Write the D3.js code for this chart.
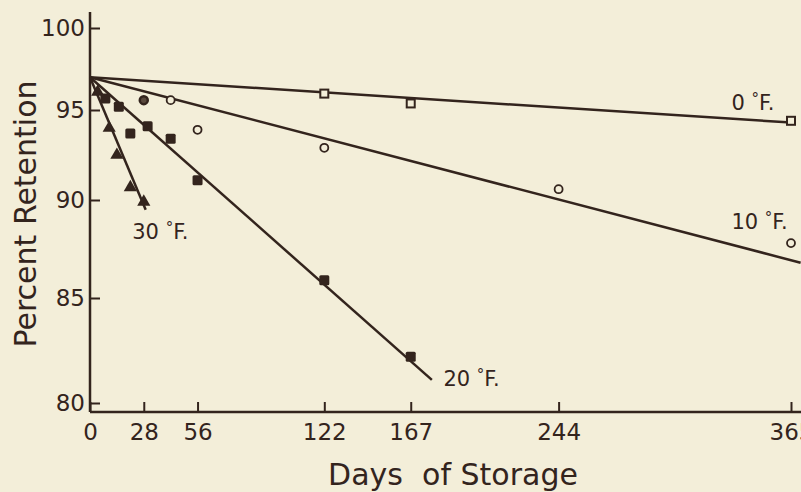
<!DOCTYPE html>
<html>
<head>
<meta charset="utf-8">
<script src="https://cdn.jsdelivr.net/npm/d3@7"></script>
<style>
  body { margin: 0; background: #f3eed9; }
  svg { display: block; }
  text { font-family: "DejaVu Sans", sans-serif; fill: #33241d; }
</style>
</head>
<body>
<svg id="chart" width="801" height="492"></svg>
<script>
// axis ticks
const dayTicks = [0, 28, 56, 122, 167, 244, 365]
const pctTicks = [80, 85, 90, 95, 100]

// 0 F (open squares)
const f0Days = [122, 167, 365]
const f0Vals = [96.0, 95.4, 94.4]
// 10 F (open circles)
const f10Days = [28, 42, 56, 122, 244, 365]
const f10Vals = [95.6, 95.6, 93.9, 92.9, 90.6, 87.8]
// 20 F (filled squares)
const f20Days = [8, 15, 21, 30, 42, 56, 122, 167]
const f20Vals = [95.7, 95.2, 93.7, 94.1, 93.4, 91.1, 85.9, 82.2]
// 30 F (filled triangles)
const f30Days = [4, 10, 14, 21, 28]
const f30Vals = [96.1, 94.0, 92.5, 90.7, 89.9]

// fitted lines: [startDay, startVal, endDay, endVal]
const lineTemps = ["0", "10", "20", "30"]
const lineFits = [
  [0, 97.0, 365, 94.3],
  [0, 97.0, 370, 86.8],
  [0, 97.0, 178, 81.1],
  [0, 97.0, 29, 89.5]
]
// where each label sits, in days / percent
const labelDays = [334, 334, 184, 22]
const labelVals = [95.0, 88.5, 80.8, 88.0]

const ink = "#33241d"
const paper = "#f3eed9"
const svg = d3.select("#chart")

const x = d3.scaleLinear().domain([0, 365]).range([90, 791])
// the printed percent axis is not evenly spaced, so map each tick
const y = d3.scaleLinear().domain([80, 85, 90, 95, 100]).range([403, 298, 200, 110, 28])
const axisY = 412

// axes
const xAxis = svg.append("g").attr("transform", "translate(0," + axisY + ")")
  .call(d3.axisBottom(x).tickValues(dayTicks).tickSize(-10).tickSizeOuter(0).tickPadding(12))
xAxis.select(".domain").remove()
xAxis.selectAll("line").attr("stroke", ink).attr("stroke-width", 2)
xAxis.selectAll("text").attr("font-size", 23).attr("fill", ink).style("font-family", "DejaVu Sans")
svg.append("line").attr("x1", x(0)).attr("x2", 801).attr("y1", axisY).attr("y2", axisY)
  .attr("stroke", ink).attr("stroke-width", 2.5)

const yAxis = svg.append("g").attr("transform", "translate(" + x(0) + ",0)")
  .call(d3.axisLeft(y).tickValues(pctTicks).tickSize(-10).tickSizeOuter(0).tickPadding(5))
yAxis.select(".domain").remove()
yAxis.selectAll("line").attr("stroke", ink).attr("stroke-width", 2)
yAxis.selectAll("text").attr("font-size", 23).attr("fill", ink).style("font-family", "DejaVu Sans")
svg.append("line").attr("x1", x(0)).attr("x2", x(0)).attr("y1", y(100) - 16).attr("y2", axisY)
  .attr("stroke", ink).attr("stroke-width", 2.5)

// axis titles
svg.append("text").attr("transform", "translate(36,214) rotate(-90)")
  .attr("text-anchor", "middle").attr("font-size", 30).text("Percent Retention")
svg.append("text").attr("x", 453).attr("y", 485).attr("text-anchor", "middle")
  .attr("font-size", 30).attr("xml:space", "preserve").text("Days  of Storage")

// fitted lines
svg.append("g").selectAll(".fit").data(lineFits).join("line").attr("class", "fit")
  .attr("x1", d => x(d[0])).attr("y1", d => y(d[1]))
  .attr("x2", d => x(d[2])).attr("y2", d => y(d[3]))
  .attr("stroke", ink).attr("stroke-width", 2.5)

// points
const pts = (days, vals) => days.map((d, i) => ({ day: d, val: vals[i] }))

svg.append("g").selectAll("rect").data(pts(f0Days, f0Vals)).join("rect")
  .attr("x", d => x(d.day) - 4).attr("y", d => y(d.val) - 4)
  .attr("width", 8).attr("height", 8)
  .attr("fill", paper).attr("stroke", ink).attr("stroke-width", 2)

svg.append("g").selectAll("circle").data(pts(f10Days, f10Vals)).join("circle")
  .attr("cx", d => x(d.day)).attr("cy", d => y(d.val)).attr("r", 4)
  .attr("fill", (d, i) => i == 0 ? "#5a4a3e" : paper)
  .attr("stroke", ink).attr("stroke-width", (d, i) => i == 0 ? 2.5 : 1.8)

svg.append("g").selectAll("rect").data(pts(f20Days, f20Vals)).join("rect")
  .attr("x", d => x(d.day) - 5).attr("y", d => y(d.val) - 5)
  .attr("width", 10).attr("height", 10).attr("rx", 1.5)
  .attr("fill", ink)

svg.append("g").selectAll("path").data(pts(f30Days, f30Vals)).join("path")
  .attr("transform", d => "translate(" + x(d.day) + "," + y(d.val) + ")")
  .attr("d", d3.symbol().type(d3.symbolTriangle).size(75))
  .attr("fill", ink)

// line labels, with a small raised degree sign
const labels = svg.append("g").selectAll("text").data(lineTemps).join("text")
  .attr("x", (d, i) => x(labelDays[i]))
  .attr("y", (d, i) => y(labelVals[i]))
  .attr("font-size", 21)
labels.append("tspan").text(d => d + " ")
labels.append("tspan").attr("font-size", 15).attr("dy", -6).text("°")
labels.append("tspan").attr("dy", 6).text("F.")
</script>
</body>
</html>
